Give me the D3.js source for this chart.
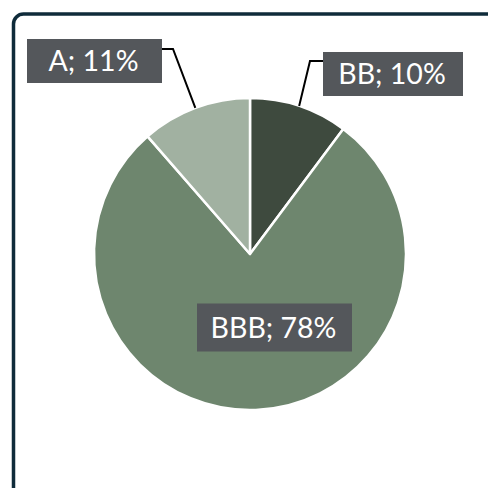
<!DOCTYPE html>
<html><head><meta charset="utf-8">
<script src="https://cdn.jsdelivr.net/npm/d3@7"></script>
<style>html,body{margin:0;padding:0;background:#fff;}svg{display:block;}</style>
</head><body>
<svg id="chart" width="488" height="488"></svg>
<script>
const categories = ["BB", "BBB", "A"];
const values = [10.2, 78.4, 11.4];
const labels = ["BB; 10%", "BBB; 78%", "A; 11%"];
const colors = ["#3e4a3e", "#6e866e", "#a1b1a1"];

const svg = d3.select("#chart");
const cx = 250, cy = 254, R = 156;

// frame
svg.append("rect").attr("x", 13.5).attr("y", 14).attr("width", 520).attr("height", 520)
  .attr("rx", 10).attr("fill", "none").attr("stroke", "#0f2b3a").attr("stroke-width", 3.5);

const data = categories.map((c, i) => ({cat: c, value: values[i], label: labels[i], color: colors[i]}));
const pie = d3.pie().value(d => d.value).sort(null);
const arcs = pie(data);
const arc = d3.arc().innerRadius(0).outerRadius(R);

const g = svg.append("g").attr("transform", `translate(${cx},${cy})`);
g.selectAll("path").data(arcs).join("path")
  .attr("d", arc).attr("fill", d => d.data.color)
  .attr("stroke", "#fff").attr("stroke-width", 2.5).attr("stroke-linejoin", "round");

// label layout (box centre and size relative to pie centre, elbow positions)
const layout = {
  "BB":  {bx: 143, by: -180, w: 140, h: 44, elbow: [60, -193], side: "left"},
  "BBB": {bx: 24.5, by: 73.5, w: 155, h: 48},
  "A":   {bx: -155.5, by: -193, w: 135, h: 44, elbow: [-77, -205], side: "right"}
};
const font = "Lato, 'Noto Sans', sans-serif";

arcs.forEach(a => {
  const L = layout[a.data.cat];
  const mid = (a.startAngle + a.endAngle) / 2;
  g.append("rect").attr("x", L.bx - L.w / 2).attr("y", L.by - L.h / 2)
    .attr("width", L.w).attr("height", L.h).attr("fill", "#54575b");
  g.append("text").attr("x", L.bx - 1).attr("y", L.by + 10)
    .attr("text-anchor", "middle")
    .attr("font-family", font).attr("font-size", 28.5).attr("fill", "#fff")
    .text(a.data.label);
  if (L.elbow) {
    const px = Math.sin(mid) * R, py = -Math.cos(mid) * R;
    const edgeX = L.side === "left" ? L.bx - L.w / 2 : L.bx + L.w / 2;
    g.append("polyline")
      .attr("points", `${px},${py} ${L.elbow[0]},${L.elbow[1]} ${edgeX},${L.elbow[1]}`)
      .attr("fill", "none").attr("stroke", "#000").attr("stroke-width", 2);
  }
});
</script>
</body></html>
